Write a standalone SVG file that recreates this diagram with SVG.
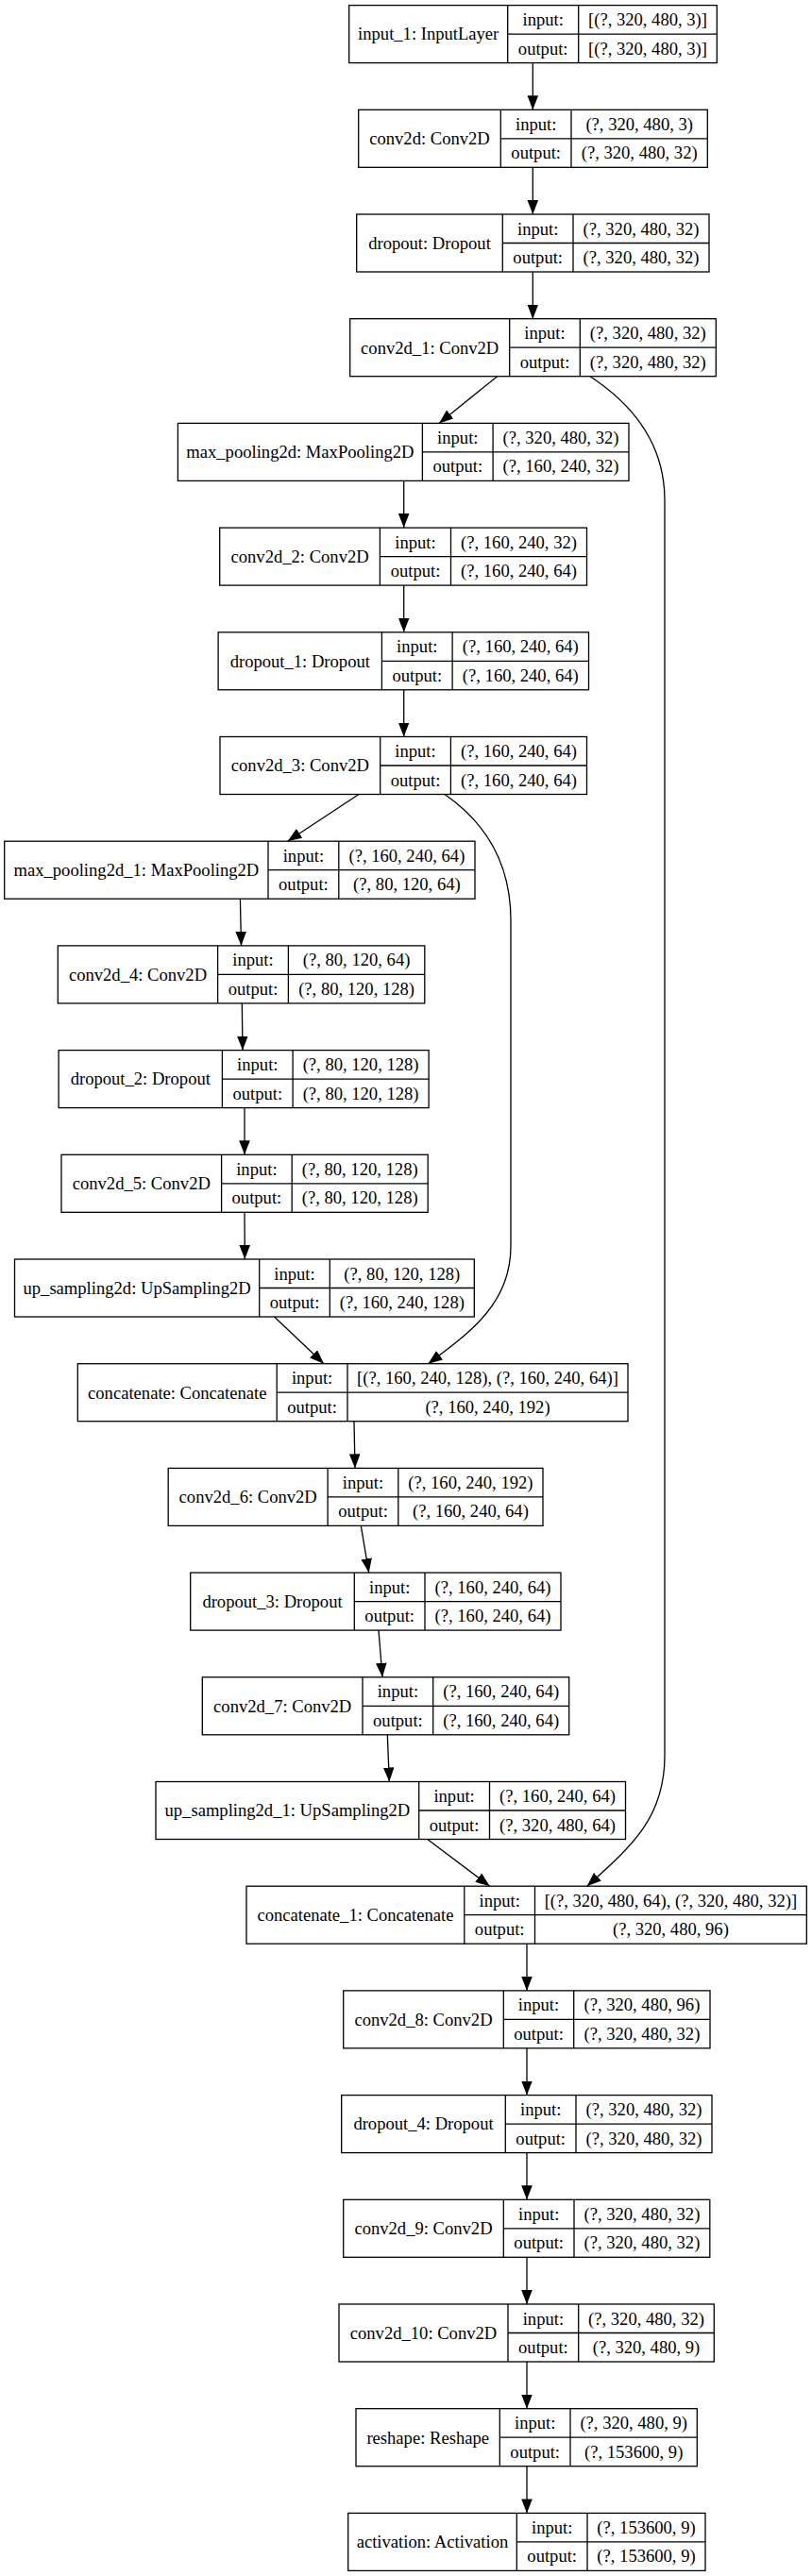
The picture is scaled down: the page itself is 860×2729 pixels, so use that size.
<svg xmlns="http://www.w3.org/2000/svg" width="860" height="2729" viewBox="0 0 860 2729">
<defs>
<marker id="arr" markerUnits="userSpaceOnUse" markerWidth="16" markerHeight="12" viewBox="0 0 16 12" refX="15" refY="5.8" orient="auto">
<path d="M0,0 L15,5.8 L0,11.6 z" fill="#000"/>
</marker>
</defs>
<style>
rect{fill:#fff;stroke:#000;stroke-width:1.3}
.d{fill:none;stroke:#000;stroke-width:1.3}
.e path{fill:none;stroke:#000;stroke-width:1.3;marker-end:url(#arr)}
text{font-family:"Liberation Serif","Times New Roman",serif;font-size:18.6px;text-anchor:middle;fill:#000}
</style>
<rect x="0" y="0" width="860" height="2729" style="fill:#fff;stroke:none"/>
<g id="connectors" class="e">
<path d="M564.3,66.6 L564.3,116.3"/>
<path d="M564.3,177.3 L564.3,227"/>
<path d="M564.3,288 L564.3,337.7"/>
<path d="M526.7,398.7 L465,448.4"/>
<path d="M625,398.7 C665,425 704,465 704,530 L704,1860 C704,1925 670,1955 621.7,1998.2"/>
<path d="M427.7,509.4 L427.7,559.1"/>
<path d="M427.7,620.1 L427.7,669.8"/>
<path d="M427.7,730.8 L427.7,780.5"/>
<path d="M380,841.5 L304.6,891.2"/>
<path d="M471,841.5 C505,865 541,905 541,975 L541,1320 C541,1380 500,1410 453.5,1444.7"/>
<path d="M254.4,952.2 L255.5,1001.9"/>
<path d="M256.3,1062.9 L257,1112.6"/>
<path d="M259,1173.6 L259,1223.3"/>
<path d="M259,1284.3 L259.3,1334"/>
<path d="M290.5,1395 L343,1444.7"/>
<path d="M375,1505.7 L376,1555.4"/>
<path d="M382.3,1616.4 L390.7,1666.1"/>
<path d="M401,1727.1 L405,1776.8"/>
<path d="M410.3,1837.8 L412.3,1887.5"/>
<path d="M452.7,1948.5 L518.7,1998.2"/>
<path d="M558,2059.2 L558,2108.9"/>
<path d="M558,2169.9 L558,2219.6"/>
<path d="M558,2280.6 L558,2330.3"/>
<path d="M558,2391.3 L558,2441"/>
<path d="M558,2502 L558,2551.7"/>
<path d="M558,2612.7 L558,2662.4"/>
</g>
<g id="input_1">
<rect x="369.7" y="5.6" width="389.6" height="61"/>
<path class="d" d="M537.7,5.6 V66.6 M612.7,5.6 V66.6 M537.7,36.1 H759.3"/>
<text x="453.7" y="42.4">input_1: InputLayer</text>
<text x="575.2" y="27.1">input:</text><text x="686" y="27.1">[(?, 320, 480, 3)]</text>
<text x="575.2" y="57.6">output:</text><text x="686" y="57.6">[(?, 320, 480, 3)]</text>
</g>
<g id="conv2d">
<rect x="379.7" y="116.3" width="369.6" height="61"/>
<path class="d" d="M530.3,116.3 V177.3 M605,116.3 V177.3 M530.3,146.8 H749.3"/>
<text x="455" y="153.1">conv2d: Conv2D</text>
<text x="567.7" y="137.8">input:</text><text x="677.2" y="137.8">(?, 320, 480, 3)</text>
<text x="567.7" y="168.3">output:</text><text x="677.2" y="168.3">(?, 320, 480, 32)</text>
</g>
<g id="dropout">
<rect x="377.7" y="227" width="373.3" height="61"/>
<path class="d" d="M532.3,227 V288 M607,227 V288 M532.3,257.5 H751"/>
<text x="455" y="263.8">dropout: Dropout</text>
<text x="569.7" y="248.5">input:</text><text x="679" y="248.5">(?, 320, 480, 32)</text>
<text x="569.7" y="279">output:</text><text x="679" y="279">(?, 320, 480, 32)</text>
</g>
<g id="conv2d_1">
<rect x="370.7" y="337.7" width="387.6" height="61"/>
<path class="d" d="M539.7,337.7 V398.7 M614.3,337.7 V398.7 M539.7,368.2 H758.3"/>
<text x="455.2" y="374.5">conv2d_1: Conv2D</text>
<text x="577" y="359.2">input:</text><text x="686.3" y="359.2">(?, 320, 480, 32)</text>
<text x="577" y="389.7">output:</text><text x="686.3" y="389.7">(?, 320, 480, 32)</text>
</g>
<g id="max_pooling2d">
<rect x="188.4" y="448.4" width="477.6" height="61"/>
<path class="d" d="M447.4,448.4 V509.4 M522.1,448.4 V509.4 M447.4,478.9 H666"/>
<text x="317.9" y="485.2">max_pooling2d: MaxPooling2D</text>
<text x="484.8" y="469.9">input:</text><text x="594" y="469.9">(?, 320, 480, 32)</text>
<text x="484.8" y="500.4">output:</text><text x="594" y="500.4">(?, 160, 240, 32)</text>
</g>
<g id="conv2d_2">
<rect x="232.7" y="559.1" width="388.8" height="61"/>
<path class="d" d="M402.4,559.1 V620.1 M477.5,559.1 V620.1 M402.4,589.6 H621.5"/>
<text x="317.6" y="595.9">conv2d_2: Conv2D</text>
<text x="440" y="580.6">input:</text><text x="549.5" y="580.6">(?, 160, 240, 32)</text>
<text x="440" y="611.1">output:</text><text x="549.5" y="611.1">(?, 160, 240, 64)</text>
</g>
<g id="dropout_1">
<rect x="231.1" y="669.8" width="392.4" height="61"/>
<path class="d" d="M404.4,669.8 V730.8 M479.1,669.8 V730.8 M404.4,700.3 H623.5"/>
<text x="317.8" y="706.6">dropout_1: Dropout</text>
<text x="441.8" y="691.3">input:</text><text x="551.3" y="691.3">(?, 160, 240, 64)</text>
<text x="441.8" y="721.8">output:</text><text x="551.3" y="721.8">(?, 160, 240, 64)</text>
</g>
<g id="conv2d_3">
<rect x="233" y="780.5" width="388.5" height="61"/>
<path class="d" d="M402.7,780.5 V841.5 M477.4,780.5 V841.5 M402.7,811 H621.5"/>
<text x="317.9" y="817.3">conv2d_3: Conv2D</text>
<text x="440" y="802">input:</text><text x="549.5" y="802">(?, 160, 240, 64)</text>
<text x="440" y="832.5">output:</text><text x="549.5" y="832.5">(?, 160, 240, 64)</text>
</g>
<g id="max_pooling2d_1">
<rect x="4.7" y="891.2" width="498.3" height="61"/>
<path class="d" d="M284,891.2 V952.2 M358.8,891.2 V952.2 M284,921.7 H503"/>
<text x="144.4" y="928">max_pooling2d_1: MaxPooling2D</text>
<text x="321.4" y="912.7">input:</text><text x="430.9" y="912.7">(?, 160, 240, 64)</text>
<text x="321.4" y="943.2">output:</text><text x="430.9" y="943.2">(?, 80, 120, 64)</text>
</g>
<g id="conv2d_4">
<rect x="61.3" y="1001.9" width="388.5" height="61"/>
<path class="d" d="M230.6,1001.9 V1062.9 M305.4,1001.9 V1062.9 M230.6,1032.4 H449.8"/>
<text x="146" y="1038.7">conv2d_4: Conv2D</text>
<text x="268" y="1023.4">input:</text><text x="377.6" y="1023.4">(?, 80, 120, 64)</text>
<text x="268" y="1053.9">output:</text><text x="377.6" y="1053.9">(?, 80, 120, 128)</text>
</g>
<g id="dropout_2">
<rect x="62.1" y="1112.6" width="392" height="61"/>
<path class="d" d="M235.4,1112.6 V1173.6 M310.1,1112.6 V1173.6 M235.4,1143.1 H454.1"/>
<text x="148.8" y="1149.4">dropout_2: Dropout</text>
<text x="272.8" y="1134.1">input:</text><text x="382.1" y="1134.1">(?, 80, 120, 128)</text>
<text x="272.8" y="1164.6">output:</text><text x="382.1" y="1164.6">(?, 80, 120, 128)</text>
</g>
<g id="conv2d_5">
<rect x="65" y="1223.3" width="388.2" height="61"/>
<path class="d" d="M234.6,1223.3 V1284.3 M309.2,1223.3 V1284.3 M234.6,1253.8 H453.2"/>
<text x="149.8" y="1260.1">conv2d_5: Conv2D</text>
<text x="271.9" y="1244.8">input:</text><text x="381.2" y="1244.8">(?, 80, 120, 128)</text>
<text x="271.9" y="1275.3">output:</text><text x="381.2" y="1275.3">(?, 80, 120, 128)</text>
</g>
<g id="up_sampling2d">
<rect x="15.5" y="1334" width="486.8" height="61"/>
<path class="d" d="M274.7,1334 V1395 M349.3,1334 V1395 M274.7,1364.5 H502.3"/>
<text x="145.1" y="1370.8">up_sampling2d: UpSampling2D</text>
<text x="312" y="1355.5">input:</text><text x="425.8" y="1355.5">(?, 80, 120, 128)</text>
<text x="312" y="1386">output:</text><text x="425.8" y="1386">(?, 160, 240, 128)</text>
</g>
<g id="concatenate">
<rect x="82.3" y="1444.7" width="582.7" height="61"/>
<path class="d" d="M293.2,1444.7 V1505.7 M368,1444.7 V1505.7 M293.2,1475.2 H665"/>
<text x="187.8" y="1481.5">concatenate: Concatenate</text>
<text x="330.6" y="1466.2">input:</text><text x="516.5" y="1466.2">[(?, 160, 240, 128), (?, 160, 240, 64)]</text>
<text x="330.6" y="1496.7">output:</text><text x="516.5" y="1496.7">(?, 160, 240, 192)</text>
</g>
<g id="conv2d_6">
<rect x="178.2" y="1555.4" width="396.8" height="61"/>
<path class="d" d="M347.1,1555.4 V1616.4 M421.8,1555.4 V1616.4 M347.1,1585.9 H575"/>
<text x="262.7" y="1592.2">conv2d_6: Conv2D</text>
<text x="384.5" y="1576.9">input:</text><text x="498.4" y="1576.9">(?, 160, 240, 192)</text>
<text x="384.5" y="1607.4">output:</text><text x="498.4" y="1607.4">(?, 160, 240, 64)</text>
</g>
<g id="dropout_3">
<rect x="201.7" y="1666.1" width="392.3" height="61"/>
<path class="d" d="M375.3,1666.1 V1727.1 M450,1666.1 V1727.1 M375.3,1696.6 H594"/>
<text x="288.5" y="1702.9">dropout_3: Dropout</text>
<text x="412.7" y="1687.6">input:</text><text x="522" y="1687.6">(?, 160, 240, 64)</text>
<text x="412.7" y="1718.1">output:</text><text x="522" y="1718.1">(?, 160, 240, 64)</text>
</g>
<g id="conv2d_7">
<rect x="214.3" y="1776.8" width="388.4" height="61"/>
<path class="d" d="M384,1776.8 V1837.8 M458.7,1776.8 V1837.8 M384,1807.3 H602.7"/>
<text x="299.2" y="1813.6">conv2d_7: Conv2D</text>
<text x="421.4" y="1798.3">input:</text><text x="530.7" y="1798.3">(?, 160, 240, 64)</text>
<text x="421.4" y="1828.8">output:</text><text x="530.7" y="1828.8">(?, 160, 240, 64)</text>
</g>
<g id="up_sampling2d_1">
<rect x="165" y="1887.5" width="497.5" height="61"/>
<path class="d" d="M443.7,1887.5 V1948.5 M518.5,1887.5 V1948.5 M443.7,1918 H662.5"/>
<text x="304.4" y="1924.3">up_sampling2d_1: UpSampling2D</text>
<text x="481.1" y="1909">input:</text><text x="590.5" y="1909">(?, 160, 240, 64)</text>
<text x="481.1" y="1939.5">output:</text><text x="590.5" y="1939.5">(?, 320, 480, 64)</text>
</g>
<g id="concatenate_1">
<rect x="261" y="1998.2" width="593.3" height="61"/>
<path class="d" d="M491.8,1998.2 V2059.2 M566.5,1998.2 V2059.2 M491.8,2028.7 H854.3"/>
<text x="376.4" y="2035">concatenate_1: Concatenate</text>
<text x="529.2" y="2019.7">input:</text><text x="710.4" y="2019.7">[(?, 320, 480, 64), (?, 320, 480, 32)]</text>
<text x="529.2" y="2050.2">output:</text><text x="710.4" y="2050.2">(?, 320, 480, 96)</text>
</g>
<g id="conv2d_8">
<rect x="363.7" y="2108.9" width="388.3" height="61"/>
<path class="d" d="M533.3,2108.9 V2169.9 M607.7,2108.9 V2169.9 M533.3,2139.4 H752"/>
<text x="448.5" y="2145.7">conv2d_8: Conv2D</text>
<text x="570.5" y="2130.4">input:</text><text x="679.9" y="2130.4">(?, 320, 480, 96)</text>
<text x="570.5" y="2160.9">output:</text><text x="679.9" y="2160.9">(?, 320, 480, 32)</text>
</g>
<g id="dropout_4">
<rect x="361.7" y="2219.6" width="392.3" height="61"/>
<path class="d" d="M535.3,2219.6 V2280.6 M610,2219.6 V2280.6 M535.3,2250.1 H754"/>
<text x="448.5" y="2256.4">dropout_4: Dropout</text>
<text x="572.7" y="2241.1">input:</text><text x="682" y="2241.1">(?, 320, 480, 32)</text>
<text x="572.7" y="2271.6">output:</text><text x="682" y="2271.6">(?, 320, 480, 32)</text>
</g>
<g id="conv2d_9">
<rect x="363.7" y="2330.3" width="388.1" height="61"/>
<path class="d" d="M533.3,2330.3 V2391.3 M608,2330.3 V2391.3 M533.3,2360.8 H751.8"/>
<text x="448.5" y="2367.1">conv2d_9: Conv2D</text>
<text x="570.7" y="2351.8">input:</text><text x="679.9" y="2351.8">(?, 320, 480, 32)</text>
<text x="570.7" y="2382.3">output:</text><text x="679.9" y="2382.3">(?, 320, 480, 32)</text>
</g>
<g id="conv2d_10">
<rect x="359" y="2441" width="397.3" height="61"/>
<path class="d" d="M538,2441 V2502 M612.7,2441 V2502 M538,2471.5 H756.3"/>
<text x="448.5" y="2477.8">conv2d_10: Conv2D</text>
<text x="575.4" y="2462.5">input:</text><text x="684.5" y="2462.5">(?, 320, 480, 32)</text>
<text x="575.4" y="2493">output:</text><text x="684.5" y="2493">(?, 320, 480, 9)</text>
</g>
<g id="reshape">
<rect x="377" y="2551.7" width="361.3" height="61"/>
<path class="d" d="M529.3,2551.7 V2612.7 M604,2551.7 V2612.7 M529.3,2582.2 H738.3"/>
<text x="453.2" y="2588.5">reshape: Reshape</text>
<text x="566.7" y="2573.2">input:</text><text x="671.2" y="2573.2">(?, 320, 480, 9)</text>
<text x="566.7" y="2603.7">output:</text><text x="671.2" y="2603.7">(?, 153600, 9)</text>
</g>
<g id="activation">
<rect x="368.7" y="2662.4" width="378.3" height="61"/>
<path class="d" d="M547.3,2662.4 V2723.4 M622,2662.4 V2723.4 M547.3,2692.9 H747"/>
<text x="458" y="2699.2">activation: Activation</text>
<text x="584.7" y="2683.9">input:</text><text x="684.5" y="2683.9">(?, 153600, 9)</text>
<text x="584.7" y="2714.4">output:</text><text x="684.5" y="2714.4">(?, 153600, 9)</text>
</g>
</svg>
